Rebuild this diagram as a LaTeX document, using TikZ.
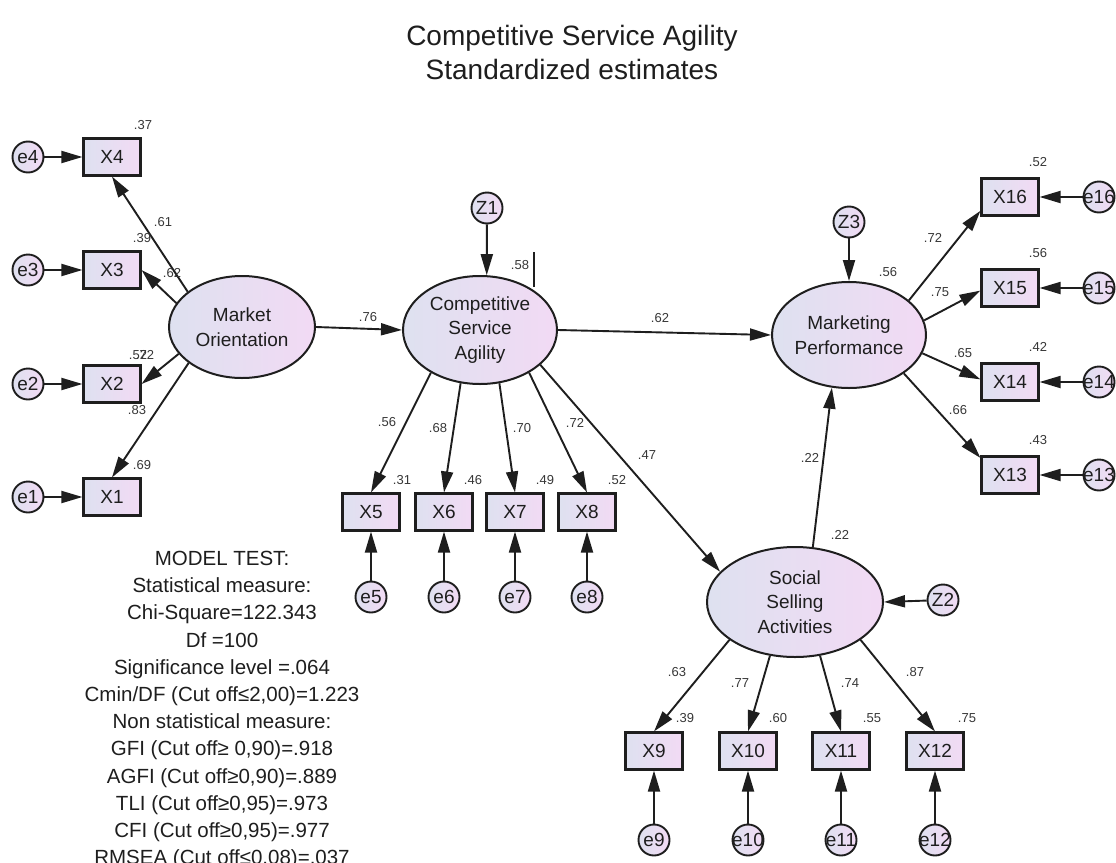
\documentclass[tikz,border=0pt]{standalone}
\usepackage{fontspec}
\setmainfont{Liberation Sans}
\usetikzlibrary{arrows.meta,calc,shapes.geometric}
\definecolor{fillL}{RGB}{222,225,240}
\definecolor{fillR}{RGB}{242,218,244}
\definecolor{ink}{RGB}{30,30,30}
\definecolor{numc}{RGB}{55,55,55}
\begin{document}
\begin{tikzpicture}[x=1pt,y=-1pt,
  latent/.style={ellipse, draw=ink, line width=2pt, left color=fillL, right color=fillR,
    inner sep=0pt, font=\fontsize{19}{24.5}\selectfont, align=center, text=ink},
  manifest/.style={rectangle, draw=ink, line width=2.1pt, left color=fillL, right color=fillR,
    minimum width=57pt, minimum height=37pt, inner sep=0pt, font=\fontsize{19}{19}\selectfont, text=ink},
  err/.style={circle, draw=ink, line width=1.9pt, left color=fillL, right color=fillR,
    minimum size=31pt, inner sep=0pt, font=\fontsize{19}{19}\selectfont, text=ink},
  num/.style={font=\fontsize{13}{13}\selectfont, text=numc, inner sep=0pt},
  arr/.style={draw=ink, line width=1.9pt, -{Triangle[length=21pt,width=12pt]}}
]
\useasboundingbox (0,0) rectangle (1116,862);
\clip (0,0) rectangle (1116,862);
\fill[white] (0,0) rectangle (1116,862);

% title
\node[font=\fontsize{28}{34}\selectfont, align=center, text=ink, inner sep=0pt] (title) at (572,52)
  {Competitive Service Agility\\Standardized estimates};

% latent variables
\node[latent, minimum width=146pt, minimum height=102pt] (MO) at (242,327) {Market\\Orientation};
\node[latent, minimum width=154pt, minimum height=108pt] (CSA) at (480,330) {Competitive\\Service\\Agility};
\node[latent, minimum width=154pt, minimum height=106pt] (MP) at (849,335) {Marketing\\Performance};
\node[latent, minimum width=176pt, minimum height=110pt] (SSA) at (795,602) {Social\\Selling\\Activities};

% disturbances
\node[err] (Z1) at (487,208) {\makebox[0pt]{Z1}};
\node[err] (Z2) at (943,600) {\makebox[0pt]{Z2}};
\node[err] (Z3) at (849,222) {\makebox[0pt]{Z3}};

% Market Orientation indicators
\node[manifest] (X4) at (112,157) {X4};
\node[manifest] (X3) at (112,270) {X3};
\node[manifest] (X2) at (112,384) {X2};
\node[manifest] (X1) at (112,497) {X1};
\node[err] (e4) at (28,157) {\makebox[0pt]{e4}};
\node[err] (e3) at (28,270) {\makebox[0pt]{e3}};
\node[err] (e2) at (28,384) {\makebox[0pt]{e2}};
\node[err] (e1) at (28,497) {\makebox[0pt]{e1}};

% CSA indicators
\node[manifest] (X5) at (371,512) {X5};
\node[manifest] (X6) at (444,512) {X6};
\node[manifest] (X7) at (515,512) {X7};
\node[manifest] (X8) at (587,512) {X8};
\node[err] (e5) at (371,597) {\makebox[0pt]{e5}};
\node[err] (e6) at (444,597) {\makebox[0pt]{e6}};
\node[err] (e7) at (515,597) {\makebox[0pt]{e7}};
\node[err] (e8) at (587,597) {\makebox[0pt]{e8}};

% SSA indicators
\node[manifest] (X9) at (654,751) {X9};
\node[manifest] (X10) at (748,751) {X10};
\node[manifest] (X11) at (841,751) {X11};
\node[manifest] (X12) at (935,751) {X12};
\node[err] (e9) at (654,840) {\makebox[0pt]{e9}};
\node[err] (e10) at (748,840) {\makebox[0pt]{e10}};
\node[err] (e11) at (841,840) {\makebox[0pt]{e11}};
\node[err] (e12) at (935,840) {\makebox[0pt]{e12}};

% MP indicators
\node[manifest] (X16) at (1010,197) {X16};
\node[manifest] (X15) at (1010,288) {X15};
\node[manifest] (X14) at (1010,382) {X14};
\node[manifest] (X13) at (1010,475) {X13};
\node[err] (e16) at (1099,197) {\makebox[0pt]{e16}};
\node[err] (e15) at (1099,288) {\makebox[0pt]{e15}};
\node[err] (e14) at (1099,382) {\makebox[0pt]{e14}};
\node[err] (e13) at (1099,475) {\makebox[0pt]{e13}};

% structural paths
\draw[arr] (MO.east) -- (CSA.west);
\draw[arr] (CSA.east) -- (MP.west);
\draw[arr] (CSA.330) -- (SSA.158);
\draw[arr] (SSA.72) -- (MP.252);
\draw[arr] (Z1) -- (CSA.83);
\draw[arr] (Z3) -- (MP.north);
\draw[arr] (Z2) -- (SSA.east);

% loadings
\draw[arr] (MO.147) -- (X4.south);
\draw[arr] (MO.160) -- (X3.east);
\draw[arr] (MO.203) -- (X2.east);
\draw[arr] (MO.214) -- (X1.north);
\draw[arr] (CSA.221) -- (X5.north);
\draw[arr] (CSA.250) -- (X6.north);
\draw[arr] (CSA.290) -- (X7.north);
\draw[arr] (CSA.319) -- (X8.north);
\draw[arr] (SSA.210) -- (X9.north);
\draw[arr] (SSA.245) -- (X10.north);
\draw[arr] (SSA.295) -- (X11.north);
\draw[arr] (SSA.330) -- (X12.north);
\draw[arr] (MP.30) -- (X16.205);
\draw[arr] (MP.11) -- (X15.185);
\draw[arr] (MP.346) -- (X14.175);
\draw[arr] (MP.325) -- (X13.150);

% errors
\foreach \i in {1,...,4} {\draw[arr] (e\i) -- (X\i);}
\foreach \i in {5,...,12} {\draw[arr] (e\i) -- (X\i);}
\foreach \i in {13,...,16} {\draw[arr] (e\i) -- (X\i);}

% stray bar
\draw[ink, line width=1.3pt] (534,252) -- (534,287);

% numbers
\node[num] (n1) at (143,125) {.37};
\node[num] (n2) at (163,222) {.61};
\node[num] (n3) at (142,238) {.39};
\node[num] (n4) at (172,273) {.62};
\node[num] (n5) at (138,355) {.52};
\node[num] (n6) at (145,355) {.72};
\node[num] (n7) at (137,410) {.83};
\node[num] (n8) at (142,465) {.69};
\node[num] (n9) at (368,317) {.76};
\node[num] (n10) at (520,265) {.58};
\node[num] (n11) at (387,422) {.56};
\node[num] (n12) at (438,428) {.68};
\node[num] (n13) at (522,428) {.70};
\node[num] (n14) at (575,423) {.72};
\node[num] (n15) at (402,480) {.31};
\node[num] (n16) at (473,480) {.46};
\node[num] (n17) at (545,480) {.49};
\node[num] (n18) at (617,480) {.52};
\node[num] (n19) at (647,455) {.47};
\node[num] (n20) at (660,318) {.62};
\node[num] (n21) at (888,272) {.56};
\node[num] (n22) at (933,238) {.72};
\node[num] (n23) at (940,292) {.75};
\node[num] (n24) at (963,353) {.65};
\node[num] (n25) at (958,410) {.66};
\node[num] (n26) at (1038,162) {.52};
\node[num] (n27) at (1038,253) {.56};
\node[num] (n28) at (1038,347) {.42};
\node[num] (n29) at (1038,440) {.43};
\node[num] (n30) at (810,458) {.22};
\node[num] (n31) at (840,535) {.22};
\node[num] (n32) at (677,672) {.63};
\node[num] (n33) at (740,683) {.77};
\node[num] (n34) at (850,683) {.74};
\node[num] (n35) at (915,672) {.87};
\node[num] (n36) at (685,718) {.39};
\node[num] (n37) at (778,718) {.60};
\node[num] (n38) at (872,718) {.55};
\node[num] (n39) at (967,718) {.75};

% model test block
\node[font=\fontsize{20.5}{27.2}\selectfont, align=center, anchor=north, text=ink, inner sep=0pt] (fit) at (222,551)
  {MODEL TEST:\\Statistical measure:\\Chi-Square=122.343\\Df =100\\Significance level =.064\\Cmin/DF (Cut off≤2,00)=1.223\\Non statistical measure:\\GFI (Cut off≥ 0,90)=.918\\AGFI (Cut off≥0,90)=.889\\TLI (Cut off≥0,95)=.973\\CFI (Cut off≥0,95)=.977\\RMSEA (Cut off≤0,08)=.037};
\end{tikzpicture}
\end{document}
